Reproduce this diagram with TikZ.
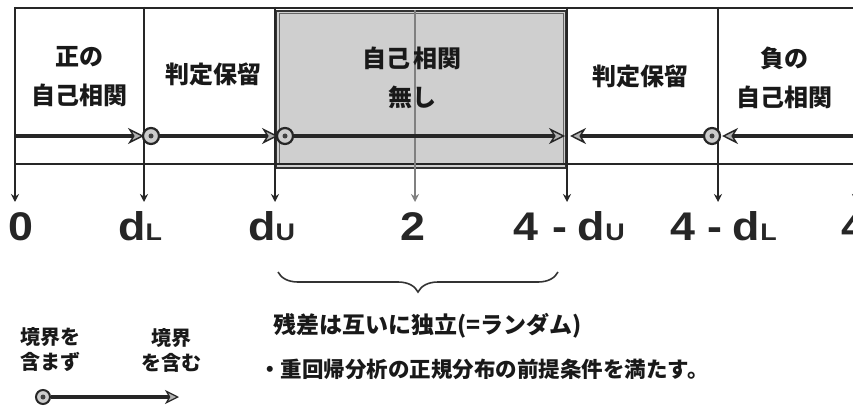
\documentclass[tikz,border=0pt]{standalone}
\usepackage{fontspec}
\setmainfont{Liberation Sans}
\newfontfamily\jp{Noto Sans CJK JP}
\newfontfamily\numfont{Liberation Sans}[FakeStretch=1.12]
\usetikzlibrary{arrows.meta,decorations.pathreplacing}
\begin{document}
\begin{tikzpicture}[x=1pt,y=-1pt,
  frame/.style={draw=black!85,line width=2.2pt},
  tick/.style={draw=black!85,line width=2.2pt,-{Stealth[length=8pt,width=8pt]}},
  midtick/.style={draw=black!50,line width=1.8pt,-{Stealth[length=8pt,width=8pt]}},
  flow/.style={draw=black!85,line width=4pt,-{Stealth[length=16pt,width=16pt,inset=5pt,fill=gray!60,line width=1.4pt]}},
  lflow/.style={draw=black!85,line width=3.4pt,-{Stealth[length=14pt,width=14pt,inset=4pt,fill=gray!60,line width=1.2pt]}},
  ring/.style={circle,draw=black!85,line width=2.2pt,fill=gray!40,minimum size=16pt,inner sep=0pt},
  lring/.style={circle,draw=black!85,line width=2pt,fill=gray!40,minimum size=14pt,inner sep=0pt},
  dot/.style={circle,fill=black!75,minimum size=5pt,inner sep=0pt},
  lab/.style={font=\jp\bfseries\fontsize{24}{39}\selectfont,text=black!90,align=center,inner sep=0pt},
  leg/.style={font=\jp\bfseries\fontsize{20}{25}\selectfont,text=black!90,align=center,inner sep=0pt},
  note/.style={font=\jp\bfseries\fontsize{23}{23}\selectfont,text=black!90,anchor=west,inner sep=0pt},
  note2/.style={font=\jp\bfseries\fontsize{21.5}{21.5}\selectfont,text=black!90,anchor=west,inner sep=0pt},
  num/.style={font=\numfont\bfseries\fontsize{40}{40}\selectfont,text=black!85,anchor=base west,inner sep=0pt}]
\newcommand{\subL}{{\fontsize{24}{24}\selectfont L}}
\newcommand{\subU}{{\fontsize{24}{24}\selectfont U}}
\useasboundingbox (0,0) rectangle (853,406);
\fill[white] (0,0) rectangle (853,406);
% gray box (no autocorrelation)
\node (box) [draw=black!80,line width=1.5pt,fill=gray!38,minimum width=290pt,minimum height=157pt,inner sep=0pt] at (421,89.5) {};
\node (boxin) [draw=black!60,line width=1pt,minimum width=284pt,minimum height=151pt,inner sep=0pt] at (421,89.5) {};
% frame lines
\coordinate (tl) at (15,8);
\coordinate (tr) at (853,8);
\coordinate (bl) at (15,164);
\coordinate (br) at (853,164);
\draw[frame] (tl) -- (tr);
\draw[frame] (bl) -- (br);
% vertical ticks
\foreach \n/\x in {a/15,b/144,c/275,e/567,f/718,g/856}{
  \coordinate (\n top) at (\x,7);
  \coordinate (\n bot) at (\x,202);
  \draw[tick] (\n top) -- (\n bot);
}
\coordinate (d top) at (415,10);
\coordinate (d bot) at (415,202);
\draw[midtick] (d top) -- (d bot);
% labels in boxes
\node (pos) [lab] at (79,77) {正の\\自己相関};
\node (hold1) [lab] at (213,74) {判定保留};
\node (none) [lab] at (412,78) {自己\hspace{4pt}相関\\無し};
\node (hold2) [lab] at (640,76) {判定保留};
\node (neg) [lab] at (784,78) {負の\\自己相関};
% flow arrows
\node (r1) [ring] at (151,136) {};
\node (r2) [ring] at (285,136) {};
\node (r3) [ring] at (712,136) {};
\coordinate (s0) at (15,136);
\coordinate (t1) at (144,136);
\coordinate (t2) at (278,136);
\coordinate (t3) at (565,136);
\coordinate (t4) at (570,136);
\coordinate (t5) at (722,136);
\coordinate (s5) at (853,136);
\draw[flow] (s0) -- (t1);
\draw[flow] (r1) -- (t2);
\draw[flow] (r2) -- (t3);
\draw[flow] (r3) -- (t4);
\draw[flow] (s5) -- (t5);
\node (r1c) [dot] at (r1) {};
\node (r2c) [dot] at (r2) {};
\node (r3c) [dot] at (r3) {};
% value labels
\node (v0) [num] at (8,240) {0};
\node (v1) [num] at (118,240) {d\subL};
\node (v2) [num] at (248,240) {d\subU};
\node (v3) [num] at (400,240) {2};
\node (v4) [num] at (513,240) {4\hspace{14pt}-\hspace{10pt}d\hspace{1pt}\subU};
\node (v5) [num] at (670,240) {4\hspace{12pt}-\hspace{10pt}d\hspace{1pt}\subL};
\node (v6) [num] at (841,240) {4};
% brace
\coordinate (brR) at (558,272);
\coordinate (brL) at (278,272);
\draw[black!80,line width=1.6pt,decorate,decoration={brace,amplitude=20pt}] (brR) -- (brL);
% notes
\node (n1) [note] at (273,326) {残差は互いに独立(=ランダム)};
\node (n2) [note2] at (259,369) {・重回帰分析の正規分布の前提条件を満たす。};
% legend
\node (l1) [leg] at (50,350) {境界を\\含まず};
\node (l2) [leg] at (171,350) {境界\\を含む};
\node (lr) [lring] at (43,397) {};
\coordinate (lt) at (179,397);
\draw[lflow] (lr) -- (lt);
\node (lrc) [dot] at (lr) {};
\end{tikzpicture}
\end{document}
